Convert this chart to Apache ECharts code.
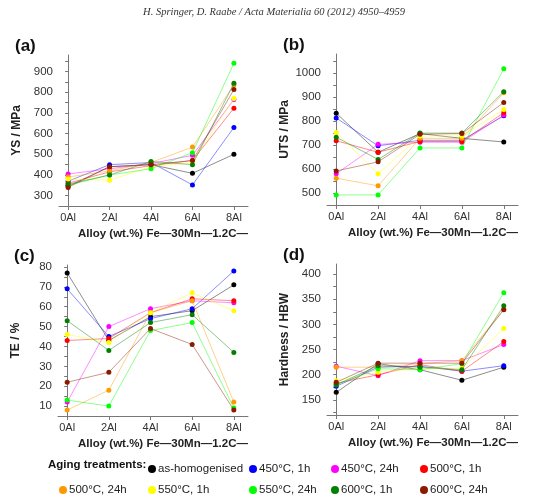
<!DOCTYPE html>
<html lang="en">
<head>
    <meta charset="UTF-8">
    <title>Aging treatments</title>
    <script src="https://cdn.jsdelivr.net/npm/echarts@6.0.0/dist/echarts.min.js"></script>
    <style>
        body { margin: 0; background: #fff; }
        #chart { width: 548px; height: 497px; }
    </style>
</head>
<body>
    <div id="chart"></div>
    <script>
        const categories = ['0Al', '2Al', '4Al', '6Al', '8Al'];
        const treatments = ['as-homogenised', '450°C, 1h', '450°C, 24h', '500°C, 1h', '500°C, 24h',
                            '550°C, 1h', '550°C, 24h', '600°C, 1h', '600°C, 24h'];
        const colors = ['#000000', '#0000ff', '#ff00ff', '#ff0000', '#ff9900',
                        '#ffff00', '#00ff00', '#008000', '#8b1a00'];

        // one row per treatment, columns 0Al..8Al
        const ysData = [
            [345, 440, 450, 408, 500],
            [370, 450, 460, 352, 630],
            [405, 430, 455, 495, 765],
            [360, 415, 445, 470, 723],
            [390, 420, 460, 535, 835],
            [380, 375, 440, 460, 770],
            [350, 400, 430, 508, 940],
            [355, 400, 465, 450, 843],
            [340, 440, 450, 470, 813]
        ];
        const utsData = [
            [833, 670, 748, 728, 713],
            [813, 697, 720, 720, 822],
            [580, 703, 712, 712, 825],
            [718, 670, 715, 715, 835],
            [562, 530, 728, 728, 918],
            [753, 580, 738, 738, 848],
            [492, 492, 688, 688, 1018],
            [733, 640, 750, 750, 923],
            [592, 630, 745, 748, 878]
        ];
        const teData = [
            [77, 43, 55, 58, 71],
            [69, 45, 54, 59, 78],
            [12, 50, 59, 63, 62],
            [43, 44, 57, 64, 63],
            [8, 18, 57, 63, 12],
            [46, 42, 57, 67, 58],
            [13, 10, 48, 52, 9],
            [53, 38, 52, 56, 37],
            [22, 27, 49, 41, 8]
        ];
        const hbwData = [
            [165, 222, 210, 189, 215],
            [177, 215, 217, 207, 218],
            [217, 198, 228, 228, 260],
            [183, 200, 220, 207, 266],
            [215, 215, 222, 228, 330],
            [188, 205, 212, 213, 292],
            [180, 212, 210, 222, 363],
            [180, 218, 215, 210, 337],
            [185, 223, 223, 223, 329]
        ];

        const ysTicks = [300, 400, 500, 600, 700, 800, 900];
        const utsTicks = [500, 600, 700, 800, 900, 1000];
        const teTicks = [10, 20, 30, 40, 50, 60, 70, 80];
        const hbwTicks = [150, 200, 250, 300, 350, 400];

        const panels = [
            { label: '(a)', name: 'YS / MPa', data: ysData, ticks: ysTicks, minor: 50, min: 250, max: 980,
              grid: { left: 59, top: 55, width: 189, height: 151 } },
            { label: '(b)', name: 'UTS / MPa', data: utsData, ticks: utsTicks, minor: 50, min: 450, max: 1080,
              grid: { left: 327, top: 54, width: 191, height: 151 } },
            { label: '(c)', name: 'TE / %', data: teData, ticks: teTicks, minor: 5, min: 5, max: 81,
              grid: { left: 58, top: 265, width: 190, height: 151 } },
            { label: '(d)', name: 'Hardness / HBW', data: hbwData, ticks: hbwTicks, minor: 25, min: 120, max: 420,
              grid: { left: 327, top: 264, width: 191, height: 151 } }
        ];

        const font = 'Arial, "Liberation Sans", sans-serif';
        const grids = [], xAxes = [], yAxes = [], series = [], graphics = [];

        panels.forEach((p, gi) => {
            grids.push(p.grid);
            xAxes.push({
                type: 'value', gridIndex: gi, min: -0.22, max: 4.34,
                name: 'Alloy (wt.%) Fe—30Mn—1.2C—', nameLocation: 'end',
                nameGap: 0,
                nameTextStyle: { fontFamily: font, fontWeight: 'bold', fontSize: 11.5, color: '#222',
                                 align: 'right', verticalAlign: 'top', padding: [22, 0, 0, 0] },
                splitLine: { show: false },
                axisLine: { lineStyle: { color: '#777' } },
                axisTick: { customValues: [0, 1, 2, 3, 4], length: 4, lineStyle: { color: '#777' } },
                axisLabel: { customValues: [0, 1, 2, 3, 4], formatter: v => categories[Math.round(v)],
                             fontFamily: font, fontSize: 11, color: '#333', margin: 6 }
            });
            const minorTicks = [];
            for (let v = Math.ceil(p.min / p.minor) * p.minor; v <= p.max; v += p.minor) minorTicks.push(v);
            yAxes.push({
                type: 'value', gridIndex: gi, min: p.min, max: p.max,
                name: p.name, nameLocation: 'middle', nameGap: 36, nameRotate: 90,
                nameTextStyle: { fontFamily: font, fontWeight: 'bold', fontSize: 12, color: '#222' },
                splitLine: { show: false },
                axisLine: { show: true, lineStyle: { color: '#777' } },
                axisTick: { show: true, customValues: minorTicks, length: 3, lineStyle: { color: '#777' } },
                axisLabel: { customValues: p.ticks, formatter: v => String(v),
                             fontFamily: font, fontSize: 11.5, color: '#333', margin: 6 }
            });
            p.data.forEach((row, si) => {
                series.push({
                    name: treatments[si], type: 'line', xAxisIndex: gi, yAxisIndex: gi,
                    data: row.map((v, i) => [i, v]),
                    symbol: 'circle', symbolSize: 5,
                    itemStyle: { color: colors[si] },
                    lineStyle: { width: 1, color: colors[si], opacity: 0.45 },
                    z: 2 + si
                });
            });
            graphics.push({
                type: 'text', left: p.grid.left - 44, top: p.grid.top - 17,
                style: { text: p.label, font: 'bold 17px ' + font, fill: '#111' }
            });
        });

        graphics.push({
            type: 'text', left: 'center', top: 7,
            style: { text: 'H. Springer, D. Raabe / Acta Materialia 60 (2012) 4950–4959',
                     font: 'italic 10.5px "Liberation Serif", "DejaVu Serif", serif', fill: '#333' }
        });
        graphics.push({
            type: 'text', left: 48, top: 459,
            style: { text: 'Aging treatments:', font: 'bold 11.5px ' + font, fill: '#111' }
        });

        const legendPos = [[143, 458], [244, 458], [326, 458], [415, 458],
                           [54, 479], [143, 479], [244, 479], [326, 479], [415, 479]];
        const legends = treatments.map((t, i) => ({
            data: [t], left: legendPos[i][0], top: legendPos[i][1],
            icon: 'circle', itemWidth: 8, itemHeight: 8, itemGap: 2,
            textStyle: { fontFamily: font, fontSize: 11.5, color: '#222', padding: [0, 0, 0, -3] },
            selectedMode: false
        }));

        const chart = echarts.init(document.getElementById('chart'));
        chart.setOption({
            animation: false,
            grid: grids, xAxis: xAxes, yAxis: yAxes, series: series,
            legend: legends, graphic: graphics
        });
    </script>
</body>
</html>
